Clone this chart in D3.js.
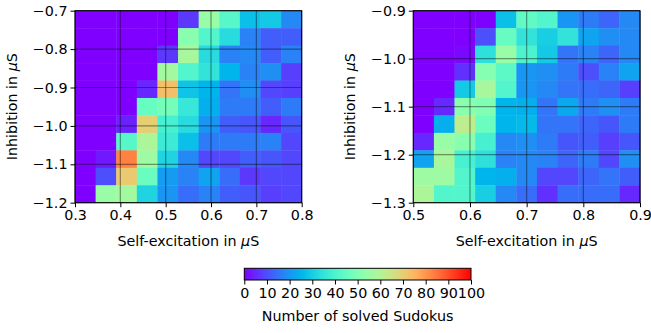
<!DOCTYPE html>
<html>
<head>
<meta charset="utf-8">
<script src="https://cdn.jsdelivr.net/npm/d3@7"></script>
<style>
  body { margin: 0; background: #fff; }
  svg { display: block; font-family: "DejaVu Sans", sans-serif; }
</style>
</head>
<body>
<div id="chart"></div>
<script>
// Left panel: rows from top (-0.7) to bottom (-1.2), columns 0.3 .. 0.8
const leftValues = [
  [0, 0, 0, 0, 0, 7, 55, 42, 27, 29, 18],
  [0, 0, 0, 0, 0, 52, 41, 33, 17, 12, 12],
  [0, 0, 0, 0, 7, 58, 33, 17, 18, 12, 17],
  [0, 0, 0, 0, 57, 41, 35, 25, 17, 19, 8],
  [0, 0, 0, 5, 73, 28, 25, 15, 19, 9, 8],
  [0, 0, 0, 45, 48, 36, 24, 16, 16, 12, 16],
  [0, 0, 4, 70, 39, 33, 20, 12, 11, 5, 11],
  [0, 0, 42, 59, 37, 27, 16, 16, 16, 17, 9],
  [0, 3, 83, 56, 31, 18, 9, 9, 12, 11, 9],
  [0, 10, 71, 46, 21, 17, 22, 14, 7, 9, 9],
  [0, 55, 57, 31, 20, 14, 17, 12, 11, 8, 9]
];
// Right panel: rows from top (-0.9) to bottom (-1.3), columns 0.5 .. 0.9
const rightValues = [
  [0, 0, 0, 0, 27, 44, 41, 20, 16, 13, 18],
  [0, 0, 0, 10, 45, 35, 30, 35, 22, 19, 18],
  [0, 0, 1, 34, 55, 40, 29, 15, 17, 13, 18],
  [0, 0, 6, 51, 43, 20, 19, 16, 10, 17, 22],
  [0, 0, 29, 58, 41, 20, 18, 15, 14, 13, 8],
  [0, 5, 52, 50, 25, 24, 15, 23, 16, 19, 16],
  [0, 24, 62, 46, 25, 26, 15, 15, 13, 11, 16],
  [5, 55, 52, 39, 18, 19, 16, 11, 12, 8, 11],
  [22, 58, 39, 34, 17, 18, 17, 13, 16, 9, 19],
  [56, 56, 41, 25, 24, 18, 9, 9, 13, 15, 12],
  [59, 41, 41, 30, 18, 14, 6, 14, 14, 14, 5]
];

const leftXDomain = [0.3, 0.8];
const leftYDomain = [-1.2, -0.7];
const rightXDomain = [0.5, 0.9];
const rightYDomain = [-1.3, -0.9];
const leftXTicks = [0.3, 0.4, 0.5, 0.6, 0.7, 0.8];
const leftYTicks = [-1.2, -1.1, -1.0, -0.9, -0.8, -0.7];
const rightXTicks = [0.5, 0.6, 0.7, 0.8, 0.9];
const rightYTicks = [-1.3, -1.2, -1.1, -1.0, -0.9];
const cbarTicks = [0, 10, 20, 30, 40, 50, 60, 70, 80, 90, 100];

const width = 651, height = 333;
const fontSize = 14.3;

// matplotlib "rainbow" colormap
function rainbow(t) {
  t = Math.max(0, Math.min(1, t));
  const r = Math.min(1, Math.abs(2 * t - 0.5));
  const g = Math.sin(Math.PI * t);
  const b = Math.cos(Math.PI * t / 2);
  return d3.rgb(r * 255, g * 255, b * 255).formatHex();
}
const color = v => rainbow(v / 100);

const fmt = d3.format(".1f");
const minus = s => s.replace("-", "\u2212");

const svg = d3.select("#chart").append("svg")
  .attr("width", width)
  .attr("height", height);

function panel(opts) {
  const { values, xDomain, yDomain, xTicks, yTicks, left, right, top, bottom } = opts;
  const x = d3.scaleLinear().domain(xDomain).range([left, right]);
  const y = d3.scaleLinear().domain(yDomain).range([bottom, top]);
  const nCols = values[0].length, nRows = values.length;
  const xb = d3.scaleBand().domain(d3.range(nCols)).range([x(xDomain[0]), x(xDomain[1])]);
  const yb = d3.scaleBand().domain(d3.range(nRows)).range([y(yDomain[1]), y(yDomain[0])]);

  const g = svg.append("g");

  // cells
  const cells = values.flatMap((row, r) => row.map((v, c) => ({ r, c, v })));
  g.selectAll("rect.cell")
    .data(cells)
    .join("rect")
    .attr("class", "cell")
    .attr("x", d => xb(d.c))
    .attr("y", d => yb(d.r))
    .attr("width", xb.bandwidth() + 0.4)
    .attr("height", yb.bandwidth() + 0.4)
    .attr("fill", d => color(d.v));

  // grid
  g.selectAll("line.gx")
    .data(xTicks)
    .join("line")
    .attr("class", "gx")
    .attr("x1", d => x(d)).attr("x2", d => x(d))
    .attr("y1", top).attr("y2", bottom)
    .attr("stroke", "#000").attr("stroke-opacity", 0.4).attr("stroke-width", 1.2);
  g.selectAll("line.gy")
    .data(yTicks)
    .join("line")
    .attr("class", "gy")
    .attr("y1", d => y(d)).attr("y2", d => y(d))
    .attr("x1", left).attr("x2", right)
    .attr("stroke", "#000").attr("stroke-opacity", 0.4).attr("stroke-width", 1.2);

  // frame
  g.append("rect")
    .attr("x", left).attr("y", top)
    .attr("width", right - left).attr("height", bottom - top)
    .attr("fill", "none").attr("stroke", "#000").attr("stroke-width", 1);

  // axes
  const xAxis = g.append("g")
    .attr("transform", `translate(0,${bottom})`)
    .call(d3.axisBottom(x).tickValues(xTicks).tickFormat(fmt).tickSize(4.5).tickPadding(3));
  const yAxis = g.append("g")
    .attr("transform", `translate(${left},0)`)
    .call(d3.axisLeft(y).tickValues(yTicks).tickFormat(d => minus(fmt(d))).tickSize(4.5).tickPadding(3));
  [xAxis, yAxis].forEach(a => {
    a.select(".domain").remove();
    a.selectAll("text").attr("font-size", fontSize).attr("fill", "#000")
      .attr("font-family", "DejaVu Sans");
    a.selectAll("line").attr("stroke", "#000");
  });

  // axis labels
  const xl = g.append("text")
    .attr("x", (left + right) / 2).attr("y", bottom + 43)
    .attr("text-anchor", "middle").attr("font-size", fontSize);
  xl.append("tspan").text("Self-excitation in ");
  xl.append("tspan").attr("font-style", "italic").text("\u03bc");
  xl.append("tspan").text("S");

  const yx = left - 58, yy = (top + bottom) / 2;
  const yl = g.append("text")
    .attr("transform", `translate(${yx},${yy}) rotate(-90)`)
    .attr("text-anchor", "middle").attr("font-size", fontSize);
  yl.append("tspan").text("Inhibition in ");
  yl.append("tspan").attr("font-style", "italic").text("\u03bc");
  yl.append("tspan").text("S");
}

panel({
  values: leftValues, xDomain: leftXDomain, yDomain: leftYDomain,
  xTicks: leftXTicks, yTicks: leftYTicks,
  left: 75, right: 301.7, top: 10.7, bottom: 202.7
});
panel({
  values: rightValues, xDomain: rightXDomain, yDomain: rightYDomain,
  xTicks: rightXTicks, yTicks: rightYTicks,
  left: 413.3, right: 640, top: 10.7, bottom: 202.7
});

// colorbar
const cb = { left: 244.3, right: 471, top: 268.3, bottom: 280 };
const cx = d3.scaleLinear().domain([0, 100]).range([cb.left, cb.right]);
const defs = svg.append("defs");
const grad = defs.append("linearGradient").attr("id", "cbgrad")
  .attr("x1", "0%").attr("x2", "100%").attr("y1", "0%").attr("y2", "0%");
grad.selectAll("stop")
  .data(d3.range(0, 101, 2))
  .join("stop")
  .attr("offset", d => `${d}%`)
  .attr("stop-color", d => color(d));
svg.append("rect")
  .attr("x", cb.left).attr("y", cb.top)
  .attr("width", cb.right - cb.left).attr("height", cb.bottom - cb.top)
  .attr("fill", "url(#cbgrad)").attr("stroke", "#000").attr("stroke-width", 1);
const cAxis = svg.append("g")
  .attr("transform", `translate(0,${cb.bottom})`)
  .call(d3.axisBottom(cx).tickValues(cbarTicks).tickFormat(d3.format("d")).tickSize(4.5).tickPadding(3));
cAxis.select(".domain").remove();
cAxis.selectAll("text").attr("font-size", fontSize).attr("fill", "#000").attr("font-family", "DejaVu Sans");
cAxis.selectAll("line").attr("stroke", "#000");
svg.append("text")
  .attr("x", (cb.left + cb.right) / 2).attr("y", 321)
  .attr("text-anchor", "middle").attr("font-size", fontSize)
  .text("Number of solved Sudokus");
</script>
</body>
</html>
